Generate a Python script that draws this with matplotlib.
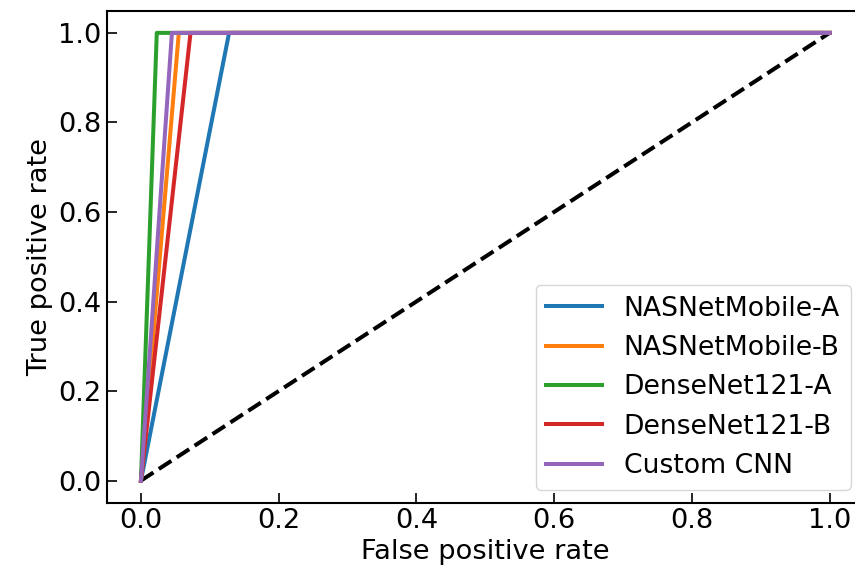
import matplotlib
matplotlib.use("Agg")
import matplotlib.pyplot as plt

models = ["NASNetMobile-A", "NASNetMobile-B", "DenseNet121-A", "DenseNet121-B", "Custom CNN"]
fpr_points = [
    [0.0, 0.128, 1.0],
    [0.0, 0.055, 1.0],
    [0.0, 0.023, 1.0],
    [0.0, 0.072, 1.0],
    [0.0, 0.045, 1.0],
]
tpr_points = [
    [0.0, 1.0, 1.0],
    [0.0, 1.0, 1.0],
    [0.0, 1.0, 1.0],
    [0.0, 1.0, 1.0],
    [0.0, 1.0, 1.0],
]
colors = ["#1f77b4", "#ff7f0e", "#2ca02c", "#d62728", "#9467bd"]
chance_x = [0.0, 1.0]
chance_y = [0.0, 1.0]

plt.rcParams["font.size"] = 19.6
fig = plt.figure(figsize=(8.55, 5.82), dpi=100)
ax = fig.add_axes([106.5 / 855, 1 - 503 / 582, (864 - 106.5) / 855, (503 - 10.5) / 582])

ax.plot(chance_x, chance_y, "k--", lw=2.9)
for name, fx, ty, c in zip(models, fpr_points, tpr_points, colors):
    ax.plot(fx, ty, color=c, lw=2.9, label=name)

ax.set_xlabel("False positive rate")
ax.set_ylabel("True positive rate")
ax.tick_params(direction="in", length=7, width=1.2)
for s in ax.spines.values():
    s.set_linewidth(1.5)
ax.spines["right"].set_visible(False)
ax.legend(loc="lower right", fontsize=19.2, handlelength=2.1, borderaxespad=0.5,
          labelspacing=0.5)
fig.savefig("out.png", dpi=100)
